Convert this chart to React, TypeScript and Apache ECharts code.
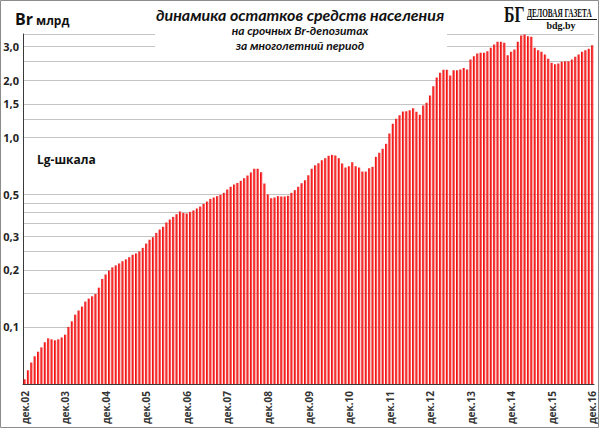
import React, { useEffect, useRef } from "react";
import * as echarts from "echarts";

// Months (category labels are built from these)
const monthNames = ["янв", "фев", "мар", "апр", "май", "июн", "июл", "авг", "сен", "окт", "ноя", "дек"];
const firstYear = 2; // дек.02

// Monthly balances, Br bn, Dec 2002 .. Dec 2016
const values = [
  0.053, 0.059, 0.065, 0.070, 0.074, 0.078, 0.083, 0.087, 0.086, 0.085, 0.086, 0.088,
  0.091, 0.100, 0.107, 0.116, 0.122, 0.128, 0.136, 0.141, 0.145, 0.149, 0.161, 0.179,
  0.189, 0.198, 0.206, 0.211, 0.216, 0.222, 0.227, 0.233, 0.240, 0.244, 0.250, 0.261,
  0.275, 0.288, 0.297, 0.313, 0.326, 0.337, 0.355, 0.368, 0.380, 0.393, 0.406, 0.399,
  0.396, 0.404, 0.411, 0.421, 0.431, 0.445, 0.458, 0.473, 0.481, 0.489, 0.497, 0.509,
  0.530, 0.548, 0.563, 0.574, 0.589, 0.608, 0.628, 0.652, 0.682, 0.682, 0.654, 0.570,
  0.499, 0.477, 0.481, 0.489, 0.487, 0.487, 0.491, 0.509, 0.526, 0.548, 0.572, 0.593,
  0.630, 0.682, 0.711, 0.729, 0.756, 0.775, 0.798, 0.807, 0.801, 0.775, 0.727, 0.692,
  0.703, 0.738, 0.703, 0.692, 0.659, 0.659, 0.686, 0.698, 0.788, 0.828, 0.869, 0.923,
  1.046, 1.177, 1.25, 1.306, 1.366, 1.371, 1.388, 1.422, 1.361, 1.313, 1.469, 1.518,
  1.66, 1.857, 2.065, 2.19, 2.265, 2.265, 2.116, 2.256, 2.256, 2.275, 2.32, 2.275,
  2.57, 2.674, 2.764, 2.787, 2.787, 2.842, 2.962, 3.083, 3.185, 3.185, 3.146, 2.707,
  2.82, 2.90, 3.185, 3.44, 3.48, 3.41, 3.385, 2.962, 2.876, 2.82, 2.73, 2.592,
  2.466, 2.427, 2.447, 2.50, 2.516, 2.516, 2.57, 2.655, 2.73, 2.82, 2.876, 2.926,
  3.055,
];

const labelValues = [0.1, 0.2, 0.3, 0.5, 1.0, 1.5, 2.0, 3.0];
const gridValues = [0.1, 0.15, 0.2, 0.25, 0.3, 0.35, 0.4, 0.45, 0.5, 1.0, 1.25, 1.5, 2.0, 2.5, 3.0, 3.5];
const axisMin = 0.05;
const axisMax = 3.5;

const categories = values.map((_, i) => {
  const m = (11 + i) % 12;
  const y = firstYear + Math.floor((11 + i) / 12);
  return `${monthNames[m]}.${String(y).padStart(2, "0")}`;
});

const toY = (v: number) => Math.log10(v / axisMin);

export default function App() {
  const ref = useRef<HTMLDivElement>(null);
  useEffect(() => {
    if (!ref.current) return;
    const chart = echarts.init(ref.current, undefined, { renderer: "svg" });
    const font = "'Open Sans', 'Noto Sans', sans-serif";
    const titleFont = "Lato, 'Open Sans', sans-serif";
    const serif = "'Liberation Serif', 'DejaVu Serif', serif";
    chart.setOption({
      animation: false,
      backgroundColor: "#ffffff",
      grid: { left: 23, right: 6, top: 34, bottom: 45, containLabel: false, outerBoundsMode: "none" },
      xAxis: {
        type: "category",
        data: categories,
        boundaryGap: true,
        axisLine: { show: true, lineStyle: { color: "#3a3a3a", width: 1 } },
        axisTick: { show: false },
        splitLine: { show: false },
        axisLabel: {
          interval: 11,
          rotate: 90,
          margin: 7,
          fontSize: 10,
          fontWeight: "bold",
          color: "#333333",
          fontFamily: font,
        },
      },
      yAxis: {
        type: "value",
        min: 0,
        max: toY(axisMax),
        axisLine: { show: true, lineStyle: { color: "#3a3a3a", width: 1 } },
        axisTick: { show: false, customValues: gridValues.map(toY) },
        axisLabel: {
          customValues: labelValues.map(toY),
          formatter: (v: number) => (axisMin * Math.pow(10, v)).toFixed(1).replace(".", ","),
          margin: 4,
          fontSize: 11,
          fontWeight: "bold",
          color: "#222222",
          fontFamily: font,
        },
        splitLine: { show: true, lineStyle: { color: "#c4c4c4", width: 1 } },
      },
      series: [
        {
          type: "bar",
          data: values.map(toY),
          barWidth: "70%",
          z: 2,
          itemStyle: {
            color: new echarts.graphic.LinearGradient(0, 0, 1, 0, [
              { offset: 0, color: "#dc0000" },
              { offset: 0.55, color: "#ff3434" },
              { offset: 1, color: "#ff8484" },
            ]),
          },
        },
      ],
      graphic: [
        { type: "rect", z: 1, silent: true, shape: { x: 155, y: 0, width: 292, height: 53 }, style: { fill: "#ffffff" } },
        {
          type: "text", z: 10, x: 300, y: 14,
          style: { text: "динамика остатков средств населения", font: `italic bold 16px ${titleFont}`, fill: "#111111", textAlign: "center", textVerticalAlign: "middle" },
        },
        {
          type: "text", z: 10, x: 300, y: 30,
          style: { text: "на срочных Br-депозитах", font: `italic bold 12px ${titleFont}`, fill: "#111111", textAlign: "center", textVerticalAlign: "middle" },
        },
        {
          type: "text", z: 10, x: 300, y: 45,
          style: { text: "за многолетний период", font: `italic bold 12px ${titleFont}`, fill: "#111111", textAlign: "center", textVerticalAlign: "middle" },
        },
        {
          type: "text", z: 10, x: 15, y: 19,
          style: { text: "Br", font: `bold 16px ${font}`, fill: "#111111", textAlign: "left", textVerticalAlign: "middle" },
        },
        {
          type: "text", z: 10, x: 36, y: 20,
          style: { text: "млрд", font: `bold 12px ${font}`, fill: "#111111", textAlign: "left", textVerticalAlign: "middle" },
        },
        {
          type: "text", z: 10, x: 37, y: 159,
          style: { text: "Lg-шкала", font: `bold 12px ${font}`, fill: "#111111", textAlign: "left", textVerticalAlign: "middle" },
        },
        {
          type: "text", z: 10, x: 504, y: 14, scaleX: 0.66,
          style: { text: "БГ", font: `bold 24px ${serif}`, fill: "#111111", textAlign: "left", textVerticalAlign: "middle" },
        },
        {
          type: "text", z: 10, x: 527, y: 13, scaleX: 0.56,
          style: { text: "ДЕЛОВАЯ ГАЗЕТА", font: `bold 13px ${serif}`, fill: "#111111", textAlign: "left", textVerticalAlign: "middle" },
        },
        { type: "line", z: 10, shape: { x1: 527, y1: 19.5, x2: 597, y2: 19.5 }, style: { stroke: "#111111", lineWidth: 1 } },
        {
          type: "text", z: 10, x: 561, y: 25,
          style: { text: "bdg.by", font: `bold 10px ${serif}`, fill: "#111111", textAlign: "center", textVerticalAlign: "middle" },
        },
        { type: "rect", z: 100, silent: true, shape: { x: 0.5, y: 0.5, width: 598, height: 427 }, style: { fill: "none", stroke: "#8c8c8c", lineWidth: 1 } },
      ],
    });
    return () => chart.dispose();
  }, []);
  return (
    <div
      ref={ref}
      style={{ position: "absolute", left: 0, top: 0, width: 600, height: 429, background: "#fff" }}
    />
  );
}
